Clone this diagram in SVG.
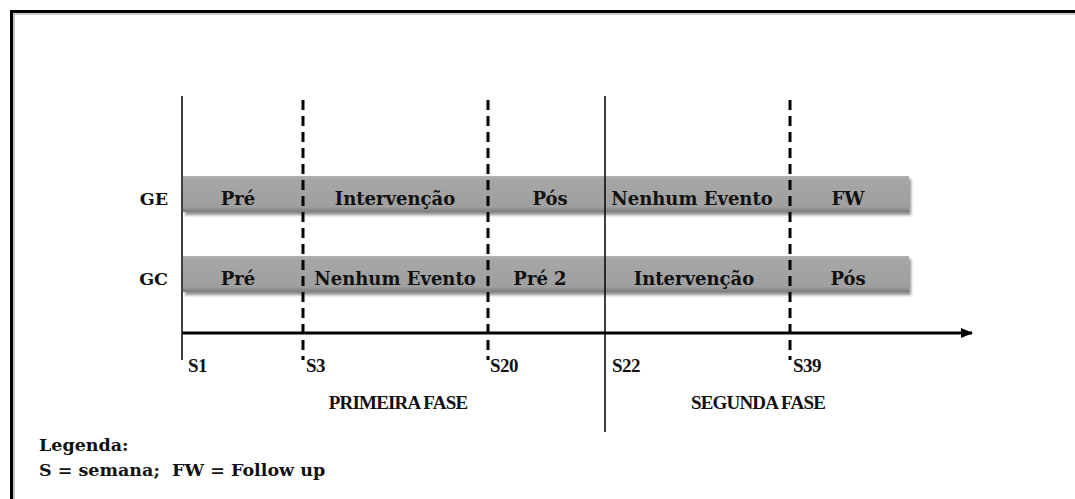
<svg xmlns="http://www.w3.org/2000/svg" width="1075" height="499" viewBox="0 0 1075 499">
<defs>
<linearGradient id="barg" x1="0" y1="0" x2="0" y2="1">
<stop offset="0" stop-color="#b0b0b0"/>
<stop offset="0.1" stop-color="#a6a6a6"/>
<stop offset="0.85" stop-color="#a0a0a0"/>
<stop offset="1" stop-color="#7c7c7c"/>
</linearGradient>
<filter id="sh" x="-5%" y="-20%" width="110%" height="160%">
<feGaussianBlur in="SourceAlpha" stdDeviation="1.5"/>
<feOffset dx="2" dy="3" result="b"/>
<feComponentTransfer><feFuncA type="linear" slope="0.45"/></feComponentTransfer>
<feMerge><feMergeNode/><feMergeNode in="SourceGraphic"/></feMerge>
</filter>
<marker id="arr" markerWidth="12" markerHeight="10" refX="11" refY="5" orient="auto" markerUnits="userSpaceOnUse">
<path d="M0,0 L12,5 L0,10 Z" fill="#000"/>
</marker>
<style>
.t{font-family:"DejaVu Serif",serif;font-weight:bold;fill:#111;}
.n{font-family:"Liberation Serif","Times New Roman",serif;font-weight:bold;fill:#111;}
.bl{font-size:18px;text-anchor:middle;}
.lb{font-size:17.5px;}
.ax{font-size:19px;letter-spacing:-0.5px;}
.ph{font-size:19px;text-anchor:middle;letter-spacing:-0.8px;}
.bar{fill:url(#barg);filter:url(#sh);}
.dash{stroke:#000;stroke-width:3;stroke-dasharray:10,6;fill:none;}
.sol{stroke:#000;stroke-width:1.5;fill:none;}
</style>
</defs>
<rect x="0" y="0" width="1075" height="499" fill="#fff"/>
<!-- frame -->
<path d="M11.5,499 V11.5 H1075" fill="none" stroke="#000" stroke-width="3"/>
<path d="M14,499 V14 H1075" fill="none" stroke="#999" stroke-width="1.2"/>

<g id="bars">
<g id="GE-row">
<rect class="bar" x="183" y="176" width="726" height="36"/>
</g>
<g id="GC-row">
<rect class="bar" x="183" y="256" width="726" height="36"/>
</g>
</g>

<g id="connectors">
<line class="sol" x1="182" y1="96" x2="182" y2="360"/>
<line class="sol" x1="605" y1="96" x2="605" y2="432"/>
<line class="dash" x1="303" y1="100" x2="303" y2="360"/>
<line class="dash" x1="488" y1="100" x2="488" y2="360"/>
<line class="dash" x1="790" y1="100" x2="790" y2="360"/>
<line x1="182" y1="333" x2="972" y2="333" stroke="#000" stroke-width="3" marker-end="url(#arr)"/>
</g>

<g id="labels">
<text class="t lb" x="168" y="205" text-anchor="end">GE</text>
<text class="t lb" x="168" y="285" text-anchor="end">GC</text>
</g>

<g id="GE-cells">
<text class="t bl" x="238" y="205">Pré</text>
<text class="t bl" x="395" y="205">Intervenção</text>
<text class="t bl" x="550" y="205">Pós</text>
<text class="t bl" x="692" y="205">Nenhum Evento</text>
<text class="t bl" x="848" y="205">FW</text>
</g>
<g id="GC-cells">
<text class="t bl" x="238" y="285">Pré</text>
<text class="t bl" x="395" y="285">Nenhum Evento</text>
<text class="t bl" x="540" y="285">Pré 2</text>
<text class="t bl" x="694" y="285">Intervenção</text>
<text class="t bl" x="848" y="285">Pós</text>
</g>

<g id="ticks">
<text class="n ax" x="188" y="372">S1</text>
<text class="n ax" x="306" y="372">S3</text>
<text class="n ax" x="490" y="372">S20</text>
<text class="n ax" x="612" y="372">S22</text>
<text class="n ax" x="793" y="372">S39</text>
</g>
<g id="phases">
<text class="n ph" x="398" y="409">PRIMEIRA FASE</text>
<text class="n ph" x="758" y="409">SEGUNDA FASE</text>
</g>
<g id="legend">
<text class="t lb" x="39" y="451">Legenda:</text>
<text class="t lb" x="39" y="476" xml:space="preserve">S = semana;  FW = Follow up</text>
</g>
</svg>
